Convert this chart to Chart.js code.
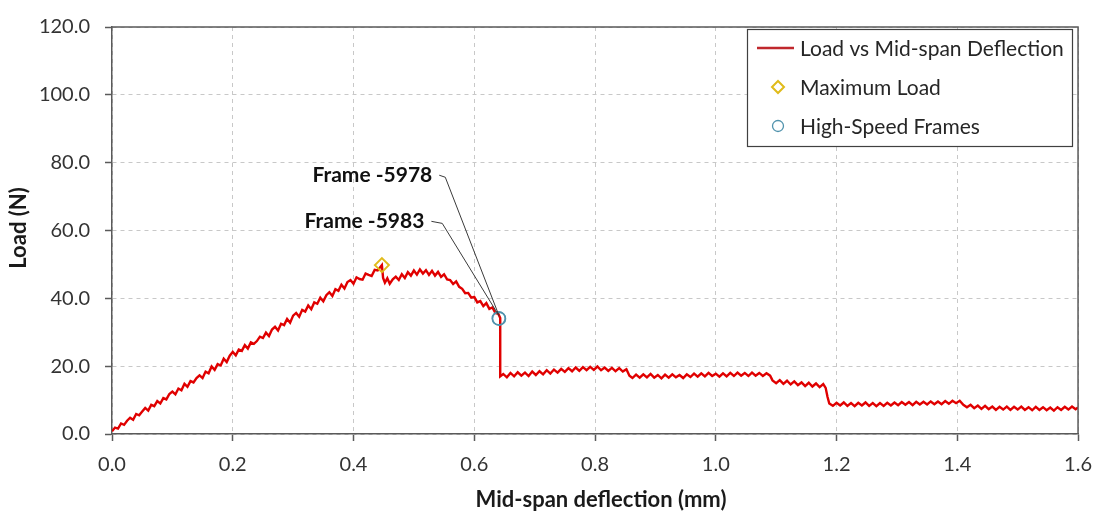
<!DOCTYPE html>
<html>
<head>
<meta charset="utf-8">
<script src="https://cdn.jsdelivr.net/npm/chart.js@4.4.1/dist/chart.umd.min.js"></script>
<style>
html,body{margin:0;padding:0;background:#fff;}
canvas{display:block;}
</style>
</head>
<body>
<canvas id="c" width="1104" height="516"></canvas>
<script>
// ---- Data ----
const deflection = [
0.000,0.005,0.010,0.015,0.020,0.025,0.030,0.035,0.040,0.045,
0.050,0.055,0.060,0.065,0.070,0.075,0.080,0.085,0.090,0.095,
0.100,0.105,0.110,0.115,0.120,0.125,0.130,0.135,0.140,0.145,
0.150,0.155,0.160,0.165,0.170,0.175,0.180,0.185,0.190,0.195,
0.200,0.205,0.210,0.215,0.220,0.225,0.230,0.235,0.240,0.245,
0.250,0.255,0.260,0.265,0.270,0.275,0.280,0.285,0.290,0.295,
0.300,0.305,0.310,0.315,0.320,0.325,0.330,0.335,0.340,0.345,
0.350,0.355,0.360,0.365,0.370,0.375,0.380,0.385,0.390,0.395,
0.400,0.405,0.410,0.415,0.420,0.425,0.430,0.435,0.440,0.447,
0.449,0.452,0.456,0.460,0.465,0.470,0.475,0.480,0.485,0.490,
0.495,0.500,0.505,0.510,0.515,0.520,0.525,0.530,0.535,0.540,
0.545,0.550,0.555,0.560,0.565,0.570,0.575,0.580,0.585,0.590,
0.595,0.600,0.605,0.610,0.615,0.620,0.625,0.630,0.635,0.640,
0.643,0.643,0.648,0.654,0.660,0.666,0.672,0.678,0.684,0.690,
0.696,0.702,0.708,0.714,0.720,0.726,0.732,0.738,0.744,0.750,
0.756,0.762,0.768,0.774,0.780,0.786,0.792,0.798,0.804,0.810,
0.816,0.822,0.828,0.834,0.840,0.846,0.852,0.857,0.862,0.868,
0.874,0.880,0.886,0.892,0.898,0.904,0.910,0.916,0.922,0.928,
0.934,0.940,0.946,0.952,0.958,0.964,0.970,0.976,0.982,0.988,
0.994,1.000,1.006,1.012,1.018,1.024,1.030,1.036,1.042,1.048,
1.054,1.060,1.066,1.072,1.078,1.084,1.090,1.094,1.100,1.106,
1.112,1.118,1.124,1.130,1.136,1.142,1.148,1.154,1.160,1.166,
1.172,1.178,1.182,1.185,1.188,1.194,1.200,1.206,1.212,1.218,
1.224,1.230,1.236,1.242,1.248,1.254,1.260,1.266,1.272,1.278,
1.284,1.290,1.296,1.302,1.308,1.314,1.320,1.326,1.332,1.338,
1.344,1.350,1.356,1.362,1.368,1.374,1.380,1.386,1.392,1.398,
1.404,1.410,1.416,1.422,1.428,1.434,1.440,1.446,1.452,1.458,
1.464,1.470,1.476,1.482,1.488,1.494,1.500,1.506,1.512,1.518,
1.524,1.530,1.536,1.542,1.548,1.554,1.560,1.566,1.572,1.578,
1.584,1.590,1.596,1.600
];
const load = [
0.8,1.9,1.6,3.1,2.7,3.9,4.8,4.2,5.9,5.5,
6.6,7.7,6.9,8.6,8.2,9.7,9.0,10.6,10.2,11.8,
12.5,11.7,13.4,12.9,14.8,13.9,15.6,15.2,16.5,17.3,
16.5,18.4,17.9,19.9,18.9,20.6,20.2,22.2,21.2,23.1,
24.2,23.2,24.9,24.5,26.2,25.2,27.0,26.6,27.4,28.7,
28.3,29.9,28.9,30.8,31.6,30.5,32.5,32.1,33.9,32.8,
34.9,35.7,34.6,36.6,36.1,37.9,36.8,38.8,38.4,40.2,
39.1,40.9,41.8,40.7,42.7,42.2,44.0,42.9,44.8,45.4,
44.3,46.2,45.7,45.5,47.3,46.9,46.6,48.4,48.2,49.8,
46.0,44.6,45.9,44.3,45.6,46.4,45.4,47.1,46.0,47.7,
46.7,48.2,47.0,48.5,47.3,48.3,46.9,48.1,46.7,47.8,
46.3,47.1,45.6,45.4,44.2,45.0,43.4,42.8,41.5,41.6,
40.2,40.4,38.8,39.2,37.7,38.6,36.9,37.3,35.7,35.4,
34.2,17.0,17.7,16.7,18.0,17.0,18.2,17.2,18.1,17.1,
18.4,17.4,18.5,17.6,18.8,17.8,19.0,18.1,19.2,18.3,
19.4,18.5,19.6,18.6,19.7,18.8,19.8,18.9,19.9,18.8,
19.6,18.6,19.5,18.5,19.4,18.4,19.1,17.2,16.5,17.5,
16.6,17.6,16.7,17.7,16.6,17.4,16.4,17.5,16.6,17.6,
16.7,17.4,16.5,17.6,16.8,17.8,16.9,17.9,17.0,18.0,
17.1,17.8,16.9,17.9,17.0,18.0,17.1,18.1,17.2,18.0,
17.1,18.1,17.2,18.0,17.1,17.9,17.2,15.8,15.0,15.9,
14.8,15.7,14.6,15.5,14.4,15.2,14.1,15.1,14.0,14.9,
13.8,14.7,13.6,11.0,9.0,8.3,9.2,8.4,9.3,8.3,
9.1,8.2,9.2,8.4,9.3,8.3,9.1,8.2,9.1,8.3,
9.2,8.4,9.3,8.5,9.4,8.6,9.4,8.5,9.5,8.7,
9.5,8.7,9.6,8.8,9.6,8.8,9.7,8.9,9.8,9.1,
9.8,8.6,7.9,8.6,7.6,8.4,7.4,8.3,7.3,8.1,
7.1,8.0,7.2,8.1,7.1,8.0,7.2,8.1,7.1,7.9,
7.0,8.0,7.1,7.9,7.0,7.8,6.9,7.9,7.1,8.0,
7.2,8.1,7.3,7.8
];
const maxLoadX = [0.447];
const maxLoadY = [49.8];
const frameX = [0.6410, 0.6405];
const frameY = [34.0, 34.1];
const frameLabels = ["Frame -5978", "Frame -5983"];
const xTicks = [0.0,0.2,0.4,0.6,0.8,1.0,1.2,1.4,1.6];
const yTicks = [0.0,20.0,40.0,60.0,80.0,100.0,120.0];
const seriesNames = ["Load vs Mid-span Deflection", "Maximum Load", "High-Speed Frames"];
const xTitle = "Mid-span deflection (mm)";
const yTitle = "Load (N)";

// ---- Styles ----
const RED = "#e00000";
const GOLD = "#e0bb1a";
const BLUE = "#5193ad";
const FONT = "Lato, 'Open Sans', sans-serif";

const lineData = deflection.map((x, i) => ({x: x, y: load[i]}));
const maxData = maxLoadX.map((x, i) => ({x: x, y: maxLoadY[i]}));
const frameData = frameX.map((x, i) => ({x: x, y: frameY[i]}));

// label anchors in data coordinates (x, y) and knee offsets
const labelAnchors = [
  {lx: 0.5420, ly: 76.3, kx: 0.5520, ky: 75.7},
  {lx: 0.5290, ly: 62.7, kx: 0.5470, ky: 62.1}
];

const overlay = {
  id: 'overlay',
  afterDatasetsDraw(chart) {
    const {ctx, chartArea: a, scales: {x, y}} = chart;
    ctx.save();
    // top and right frame
    ctx.strokeStyle = "#5a5a5a";
    ctx.lineWidth = 1.5;
    ctx.beginPath();
    ctx.moveTo(a.left, a.top); ctx.lineTo(a.right, a.top); ctx.lineTo(a.right, a.bottom);
    ctx.stroke();

    // annotation leaders + labels
    ctx.strokeStyle = "#3a3a3a";
    ctx.lineWidth = 1;
    ctx.fillStyle = "#111";
    ctx.font = "bold 21px " + FONT;
    ctx.textAlign = "right";
    ctx.textBaseline = "middle";
    frameLabels.forEach((lab, i) => {
      const an = labelAnchors[i];
      const px = x.getPixelForValue(an.lx), py = y.getPixelForValue(an.ly);
      const kx = x.getPixelForValue(an.kx), ky = y.getPixelForValue(an.ky);
      const tx = x.getPixelForValue(frameX[i]), ty = y.getPixelForValue(frameY[i]) - 3;
      ctx.beginPath();
      ctx.moveTo(px, py); ctx.lineTo(kx, ky); ctx.lineTo(tx, ty);
      ctx.stroke();
      ctx.fillText(lab, px - 7, py);
    });

    // legend
    const lx = 747.5, ly = 29.5, lw = 325, lh = 117;
    ctx.fillStyle = "#fff";
    ctx.fillRect(lx, ly, lw, lh);
    ctx.strokeStyle = "#404040";
    ctx.lineWidth = 1.2;
    ctx.strokeRect(lx, ly, lw, lh);
    const rows = [48, 87, 126];
    ctx.font = "21px " + FONT;
    ctx.fillStyle = "#262626";
    ctx.textAlign = "left";
    ctx.textBaseline = "middle";
    // line sample
    ctx.strokeStyle = "#c0282d";
    ctx.lineWidth = 2.5;
    ctx.beginPath(); ctx.moveTo(757, rows[0]); ctx.lineTo(794, rows[0]); ctx.stroke();
    // diamond
    ctx.strokeStyle = GOLD; ctx.lineWidth = 2;
    ctx.beginPath();
    ctx.moveTo(778, rows[1] - 6); ctx.lineTo(784, rows[1]); ctx.lineTo(778, rows[1] + 6); ctx.lineTo(772, rows[1]);
    ctx.closePath(); ctx.stroke();
    // circle
    ctx.strokeStyle = BLUE; ctx.lineWidth = 1.3;
    ctx.beginPath(); ctx.arc(778, rows[2], 5.5, 0, Math.PI * 2); ctx.stroke();
    seriesNames.forEach((n, i) => ctx.fillText(n, 800, rows[i] + 1));

    // axis titles
    ctx.fillStyle = "#1a1a1a";
    ctx.font = "bold 22px " + FONT;
    ctx.textAlign = "center";
    ctx.fillText(xTitle, 601, 500);
    ctx.save();
    ctx.translate(19, 228);
    ctx.rotate(-Math.PI / 2);
    ctx.fillText(yTitle, 0, 0);
    ctx.restore();
    ctx.restore();
  }
};

new Chart(document.getElementById('c'), {
  type: 'scatter',
  data: {
    datasets: [
      {label: seriesNames[0], data: lineData, showLine: true, borderColor: RED, borderWidth: 2.4,
       pointRadius: 0, tension: 0, order: 3},
      {label: seriesNames[1], data: maxData, pointStyle: 'rectRot', pointRadius: 7,
       borderColor: GOLD, backgroundColor: 'rgba(255,255,255,0)', borderWidth: 2, order: 1},
      {label: seriesNames[2], data: frameData, pointStyle: 'circle', pointRadius: 6.5,
       borderColor: BLUE, backgroundColor: 'rgba(255,255,255,0)', borderWidth: 1.5, order: 2}
    ]
  },
  options: {
    responsive: false,
    animation: false,
    layout: {padding: {top: 17, right: 23, left: 0, bottom: 0}},
    plugins: {legend: {display: false}, tooltip: {enabled: false}},
    scales: {
      x: {
        type: 'linear', min: 0, max: 1.6,
        afterBuildTicks: s => { s.ticks = xTicks.map(v => ({value: v})); },
        afterFit: s => { s.height = 82; },
        ticks: {callback: v => Number(v).toFixed(1), font: {family: FONT, size: 20}, color: '#333', padding: 12, maxRotation: 0},
        grid: {color: '#c8c8c8', lineWidth: 1, tickLength: 7, tickColor: '#5a5a5a', tickWidth: 1.5, tickBorderDash: []},
        border: {display: true, color: '#5a5a5a', width: 1.5, dash: [4, 4]}
      },
      y: {
        type: 'linear', min: 0, max: 120,
        afterBuildTicks: s => { s.ticks = yTicks.map(v => ({value: v})); },
        afterFit: s => { s.width = 112; },
        ticks: {callback: v => Number(v).toFixed(1), font: {family: FONT, size: 20}, color: '#333', padding: 15},
        grid: {color: '#c8c8c8', lineWidth: 1, tickLength: 7, tickColor: '#5a5a5a', tickWidth: 1.5, tickBorderDash: []},
        border: {display: true, color: '#5a5a5a', width: 1.5, dash: [4, 4]}
      }
    }
  },
  plugins: [overlay]
});
</script>
</body>
</html>
